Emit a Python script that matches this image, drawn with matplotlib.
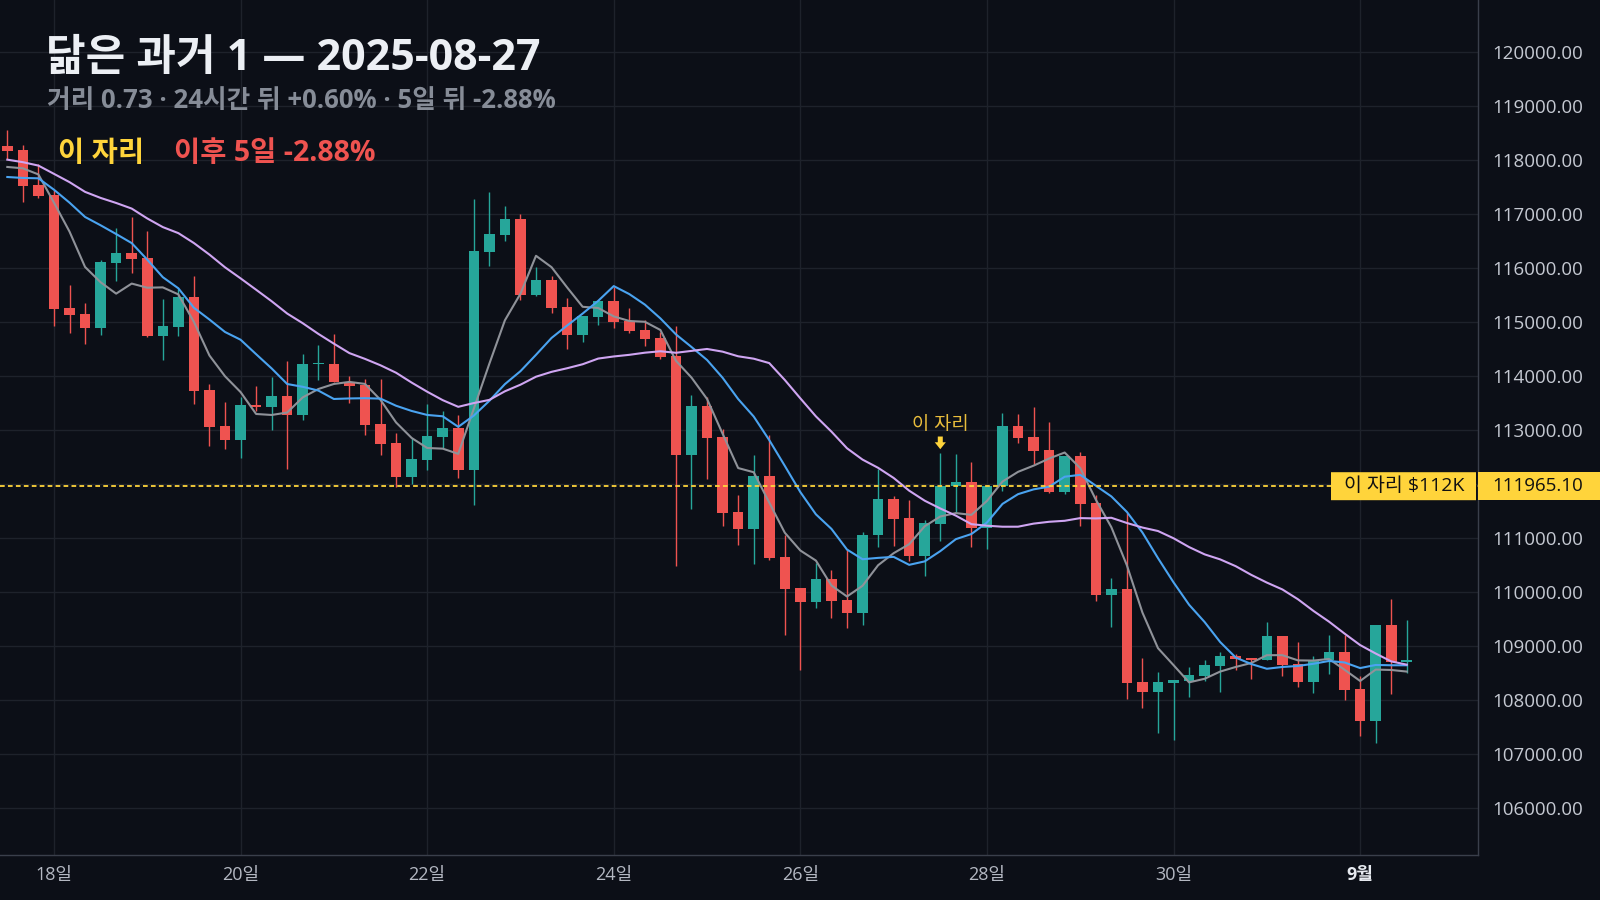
import matplotlib
matplotlib.use("Agg")
import matplotlib.pyplot as plt
from matplotlib.patches import Rectangle, FancyBboxPatch
from matplotlib.transforms import blended_transform_factory
import numpy as np
import pandas as pd

plt.rcParams['font.family'] = ['Open Sans', 'Noto Sans CJK KR', 'DejaVu Sans']

# --- data: 4h candles, Aug 17 12:00 -> Sep 1 12:00 ---
opens = [118260, 118185, 117537, 117352, 115259, 115148, 114895, 116099, 116278, 116185,
         114747, 114914, 115463, 113741, 113074, 112827, 113463, 113438, 113636, 113290,
         114228, 114228, 113901, 113840, 113117, 112765, 112142, 112457, 112883, 113043,
         112272, 116309, 116617, 116914, 115506, 115784, 115284, 114765, 115099, 115395,
         115025, 114858, 114710, 114377, 112543, 113451, 112877, 111488, 111179, 112154,
         110654, 110080, 109827, 110247, 109858, 109623, 111056, 111728, 111377, 110679,
         111272, 111969, 112043, 111198, 111969, 113080, 112877, 112636, 111858, 112525,
         111654, 109951, 110062, 108340, 108154, 108321, 108358, 108451, 108636, 108821,
         108784, 108747, 109191, 108673, 108340, 108747, 108895, 108210, 107617, 109395,
         108710]
highs = [118556, 118278, 117938, 117444, 115685, 115352, 116148, 116753, 116951, 116685,
         115426, 115623, 115852, 113852, 113519, 113617, 113821, 113988, 114284, 114414,
         114580, 114784, 114000, 113951, 113951, 112944, 112852, 113488, 113358, 113284,
         117284, 117414, 117154, 117006, 116025, 115858, 115451, 115117, 115395, 115654,
         115265, 115043, 114821, 114932, 113654, 113617, 113019, 111802, 112543, 112914,
         111062, 110080, 110537, 110414, 110802, 111117, 112284, 111784, 111710, 111340,
         112580, 112562, 112414, 111990, 113321, 113302, 113432, 113154, 112525, 112599,
         111802, 110265, 111469, 108784, 108525, 108377, 108617, 108747, 108895, 108858,
         108784, 109451, 109191, 109080, 108821, 109210, 109210, 108451, 109395, 109877,
         109488]
lows = [118030, 117228, 117309, 114932, 114802, 114599, 114765, 115765, 115914, 114728,
        114302, 114747, 113488, 112710, 112654, 112494, 113364, 113012, 112290, 113198,
        113938, 113895, 113512, 112920, 112549, 111944, 112006, 112272, 112679, 112123,
        111617, 116043, 116506, 115414, 115488, 115173, 114506, 114636, 114951, 114895,
        114802, 114562, 114321, 110487, 111543, 112099, 111228, 110877, 110531, 110605,
        109216, 108554, 109716, 109531, 109346, 109401, 110846, 110864, 110586, 110309,
        110957, 111494, 110846, 110809, 111883, 112772, 112377, 111840, 111821, 111228,
        109840, 109358, 108025, 107858, 107395, 107265, 108062, 108358, 108160, 108562,
        108395, 108747, 108451, 108247, 108136, 108488, 108006, 107340, 107210, 108117,
        108506]
closes = [118173, 117525, 117333, 115241, 115130, 114895, 116111, 116278, 116173, 114747,
          114926, 115463, 113728, 113062, 112827, 113463, 113432, 113636, 113290, 114228,
          114235, 113901, 113827, 113105, 112753, 112142, 112469, 112895, 113043, 112272,
          116321, 116636, 116914, 115506, 115784, 115265, 114765, 115117, 115395, 115006,
          114840, 114691, 114358, 112543, 113451, 112858, 111475, 111179, 112154, 110642,
          110068, 109827, 110247, 109846, 109623, 111062, 111728, 111364, 110679, 111284,
          111965.1, 112043, 111198, 111969, 113080, 112864, 112617, 111858, 112525, 111636,
          109951, 110062, 108321, 108154, 108340, 108377, 108469, 108654, 108821, 108765,
          108747, 109191, 108654, 108340, 108747, 108895, 108191, 107617, 109395, 108710,
          108747]
# closes before the first visible candle (only feed the moving averages)
prior_closes = [118450, 118600, 118300, 118200, 118500, 118350, 118150, 118250, 118400, 118130,
                117700, 117400, 117350, 117525, 117550, 117650, 117900, 117850, 117812]

tick_pos = [3, 15, 27, 39, 51, 63, 75, 87]
tick_labels = ['18일', '20일', '22일', '24일', '26일', '28일', '30일', '9월']
ma_periods = [5, 10, 20]
ma_colors = ['#8f9299', '#4aa3f0', '#cfa5f2']

here_idx = 60
here_price = 111965.10

BG = '#0c0f17'
GRID = '#1e222b'
UP, DOWN = '#26a69a', '#ef5350'
YEL = '#ffd43b'

fig = plt.figure(figsize=(16, 9), dpi=100, facecolor=BG)
ax = fig.add_axes([0, 0.05, 1478 / 1600, 0.95])
ax.set_facecolor(BG)

o = np.array(opens, float); h = np.array(highs, float)
l = np.array(lows, float); c = np.array(closes, float)
x = np.arange(len(c))
up = c >= o
cols = np.where(up, UP, DOWN)

ax.vlines(x, l, h, colors=cols, linewidth=1.0, zorder=3)
body_lo = np.minimum(o, c)
body_h = np.maximum(np.abs(c - o), 20)
ax.bar(x, body_h, bottom=body_lo, width=0.68, color=cols, linewidth=0, zorder=4)

# moving averages
all_closes = pd.Series(prior_closes + closes, dtype=float)
for n, col in zip(ma_periods, ma_colors):
    ma = all_closes.rolling(n, min_periods=1).mean().values[len(prior_closes):]
    ax.plot(x, ma, color=col, linewidth=1.5, zorder=5)

# "this spot" line
ax.axhline(here_price, color=YEL, linewidth=1.3, dashes=(2.6, 1.8), zorder=6)
ax.annotate('', xy=(here_idx, 112650), xytext=(here_idx, 112885),
            arrowprops=dict(arrowstyle='simple,head_width=0.8,head_length=0.5,tail_width=0.36',
                            fc=YEL, ec='none', mutation_scale=10, shrinkA=0, shrinkB=0), zorder=7)
ax.text(here_idx, 113100, '이 자리', color='#e9bd3c', fontsize=13.5, ha='center', va='center', zorder=7)

ax.set_xlim(-0.47, 94.58)
ax.set_ylim(105135, 120969)
ax.set_yticks(np.arange(106000, 120001, 1000))
ax.set_yticklabels([f'{v:.2f}' for v in np.arange(106000, 120001, 1000)])
ax.yaxis.tick_right()
ax.set_xticks(tick_pos)
ax.set_xticklabels(tick_labels)
ax.tick_params(axis='y', length=0, pad=10, labelsize=13.5, labelcolor='#c5c9d2')
ax.tick_params(axis='x', length=0, pad=8, labelsize=13, labelcolor='#b4b8c2')
xl = ax.get_xticklabels()[-1]
xl.set_fontweight('bold'); xl.set_color('#e6e9ef')
ax.grid(True, color=GRID, linewidth=1.0, zorder=0)
for s in ['top', 'left']:
    ax.spines[s].set_visible(False)
for s in ['bottom', 'right']:
    ax.spines[s].set_color('#3a3f4b')
    ax.spines[s].set_linewidth(1.0)

# price labels on the right axis
tr = blended_transform_factory(fig.transFigure, ax.transData)
half = 14 * 18.52
fig.patches.append(Rectangle((1478 / 1600, here_price - half), 122 / 1600, 2 * half,
                             transform=tr, facecolor=YEL, edgecolor='none', zorder=10))
fig.text(1492 / 1600, here_price, f'{here_price:.2f}', transform=tr, color='#111111',
         fontsize=13.5, va='center', ha='left', zorder=11)
fig.patches.append(FancyBboxPatch((1331 / 1600, here_price - half), 145 / 1600, 2 * half,
                                  boxstyle='round,pad=0,rounding_size=0.002',
                                  transform=tr, facecolor=YEL, edgecolor='none', zorder=10))
fig.text(1404 / 1600, here_price, '이 자리 $112K', transform=tr, color='#111111',
         fontsize=14, va='center', ha='center', zorder=11)

# headings
fig.text(46 / 1600, 1 - 58 / 900, '닮은 과거 1 — 2025-08-27', color='#eceff4',
         fontsize=31, fontweight='bold', va='center', ha='left')
fig.text(47 / 1600, 1 - 101 / 900, '거리 0.73 · 24시간 뒤 +0.60% · 5일 뒤 -2.88%',
         color='#868c97', fontsize=18.5, fontweight='bold', va='center', ha='left')
fig.text(58 / 1600, 1 - 153 / 900, '이 자리', color=YEL, fontsize=20.5,
         fontweight='bold', va='center', ha='left')
fig.text(174 / 1600, 1 - 153 / 900, '이후 5일 -2.88%', color=DOWN, fontsize=20.5,
         fontweight='bold', va='center', ha='left')

fig.savefig('out.png', dpi=100, facecolor=BG)
